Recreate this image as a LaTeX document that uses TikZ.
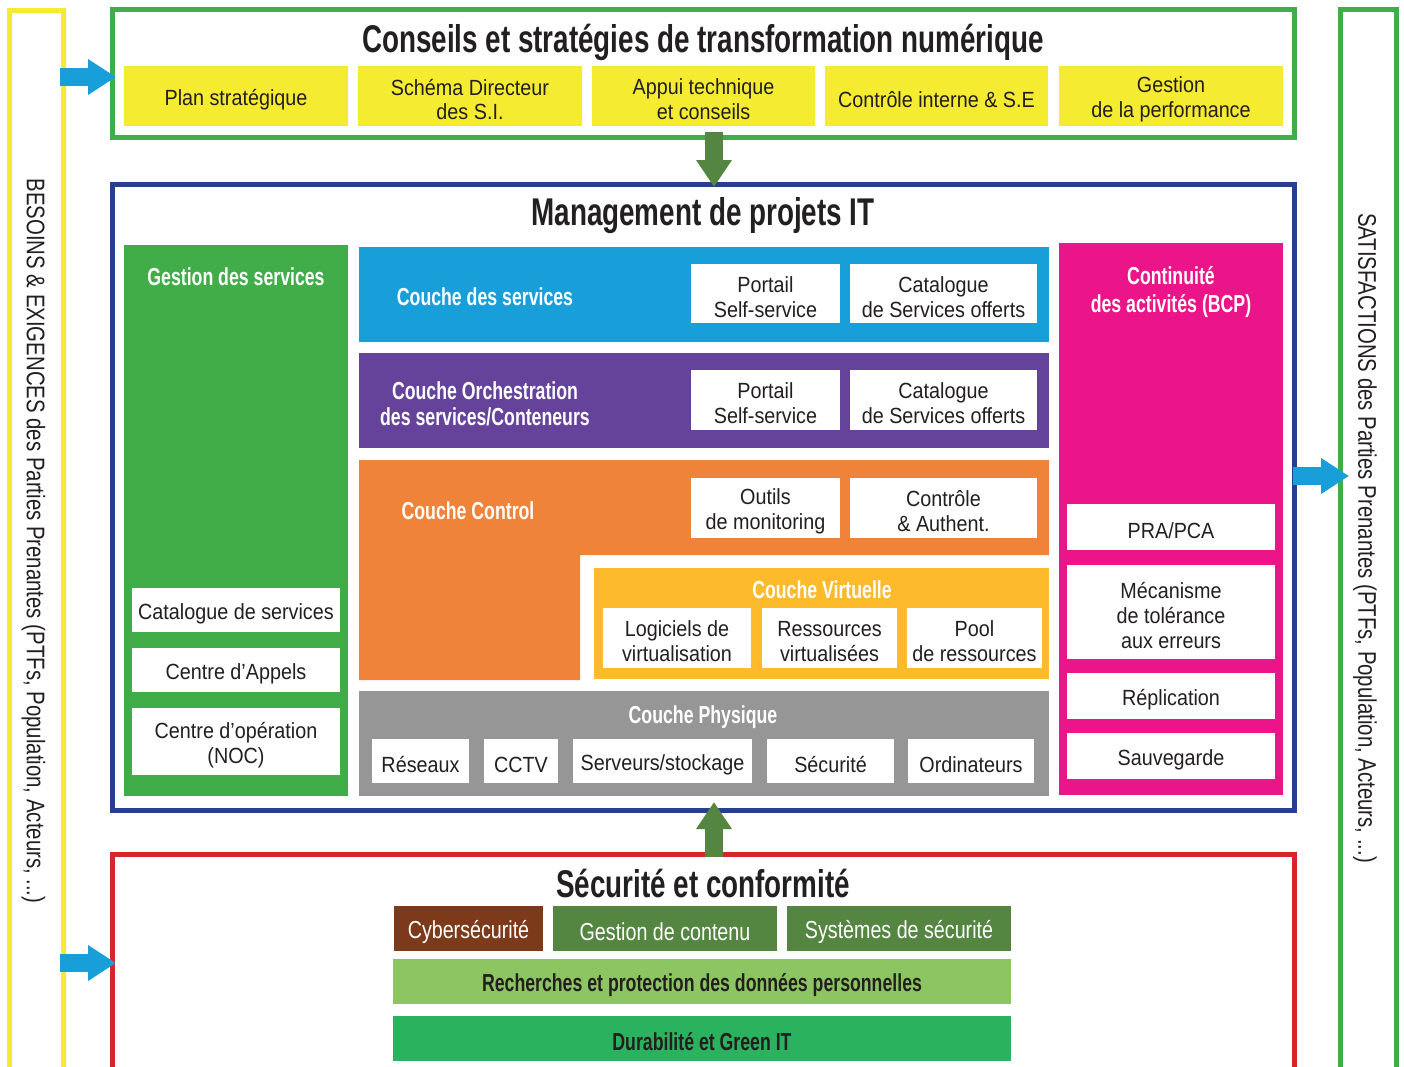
\documentclass[tikz,border=0pt]{standalone}
\usepackage{fontspec}
\setmainfont{Liberation Sans}[FakeStretch=0.9]
\newfontfamily\condfont{Liberation Sans}[FakeStretch=0.72]
\newfontfamily\lightcond{Liberation Sans}[FakeStretch=0.8]
\usetikzlibrary{arrows.meta,positioning,fit}
\definecolor{ink}{HTML}{231F20}
\definecolor{baryellow}{HTML}{F6EB33}
\definecolor{framegreen}{HTML}{3FAE4A}
\definecolor{framenavy}{HTML}{263F8E}
\definecolor{framered}{HTML}{D9242B}
\definecolor{planyellow}{HTML}{F5EC32}
\definecolor{layerblue}{HTML}{189FDA}
\definecolor{layerpurple}{HTML}{65439A}
\definecolor{layerorange}{HTML}{F0833A}
\definecolor{layergold}{HTML}{FDBB2B}
\definecolor{layergray}{HTML}{969696}
\definecolor{colgreen}{HTML}{40AD49}
\definecolor{colmagenta}{HTML}{EB1589}
\definecolor{darkgreen}{HTML}{548541}
\definecolor{brown}{HTML}{7C3A1A}
\definecolor{lightgreen}{HTML}{8DC562}
\definecolor{greenit}{HTML}{2AB25E}
\tikzstyle{border} = [draw,line width=0.1cm,inner sep=0,outer sep=0]
\tikzstyle{band} = [inner sep=0,outer sep=0]
\tikzstyle{cell} = [fill=white,inner sep=0,outer sep=0]
\tikzstyle{lab} = [text=ink,inner sep=0,yshift=-0.07cm,align=center,font=\fontsize{12.5}{14.2}\selectfont]
\tikzstyle{darklab} = [lab,text=white,font=\lightcond\fontsize{14}{16}\selectfont]
\tikzstyle{boldlab} = [lab,font=\condfont\bfseries\fontsize{14}{16}\selectfont]
\tikzstyle{head} = [text=white,align=center,font=\condfont\bfseries\fontsize{14}{14.6}\selectfont]
\tikzstyle{bigtitle} = [text=ink,font=\condfont\bfseries\fontsize{22}{26}\selectfont]
\tikzstyle{sidetext} = [text=ink,rotate=-90,font=\lightcond\fontsize{14.5}{16}\selectfont]
\tikzstyle{bluearrow} = [line width=0.36cm,color=layerblue,-{Triangle[length=0.56cm,width=0.68cm]}]
\tikzstyle{greenarrow} = [line width=0.36cm,color=darkgreen,-{Triangle[length=0.54cm,width=0.68cm]}]

\begin{document}
\begin{tikzpicture}[x=0.02cm,y=-0.02cm]
  \fill[white] (0,0) rectangle (1404,1066);
  \useasboundingbox (0,0) rectangle (1404,1066);

  % side bars
  \node[border,draw=baryellow,fit={(9.5,10.5) (63.5,1100)}] (besoins) {};
  \node[border,draw=framegreen,fit={(1340.5,9.5) (1396.5,1100)}] (satis) {};
  \node[sidetext] (besoinstext) at (33.5,541) {BESOINS \& EXIGENCES des Parties Prenantes (PTFs, Population, Acteurs, ...)};
  \node[sidetext] (satistext) at (1365,538) {SATISFACTIONS des Parties Prenantes (PTFs, Population, Acteurs, ...)};

  % conseils
  \node[border,draw=framegreen,fit={(112.5,9.5) (1294.5,137.5)}] (conseils) {};
  \node[bigtitle] (conseilstitle) at (703,42) {Conseils et stratégies de transformation numérique};
  \node[cell,fill=planyellow,fit={(124,66) (348,126)},label={[lab]center:Plan stratégique}] (plan) {};
  \node[cell,fill=planyellow,fit={(358,66) (582,126)},label={[lab]center:{Schéma Directeur\\des S.I.}}] (schema) {};
  \node[cell,fill=planyellow,fit={(592,66) (815,126)},label={[lab]center:{Appui technique\\et conseils}}] (appui) {};
  \node[cell,fill=planyellow,fit={(825,66) (1048,126)},label={[lab]center:Contrôle interne \& S.E}] (controleint) {};
  \node[cell,fill=planyellow,fit={(1059,66) (1283,126)},label={[lab]center:{Gestion\\de la performance}}] (perf) {};

  % management
  \node[border,draw=framenavy,fit={(112.5,184.5) (1294.5,810)}] (mgmt) {};
  \node[bigtitle] (mgmttitle) at (703,216) {Management de projets IT};

  \node[band,fill=colgreen,fit={(124,245) (348,796)}] (gestion) {};
  \node[head] (gestiontitle) at (236,277) {Gestion des services};
  \node[cell,fit={(132,588) (340,632)},label={[lab]center:Catalogue de services}] (catalogue) {};
  \node[cell,fit={(132,648) (340,692)},label={[lab]center:Centre d’Appels}] (appels) {};
  \node[cell,fit={(132,708) (340,775)},label={[lab]center:{Centre d’opération\\(NOC)}}] (noc) {};

  \node[band,fill=layerblue,fit={(359,247) (1049,342)}] (services) {};
  \node[head] (servicestitle) at (485,297) {Couche des services};
  \node[cell,fit={(691,264) (840,323)},label={[lab]center:{Portail\\Self-service}}] (portaila) {};
  \node[cell,fit={(850,264) (1037,323)},label={[lab]center:{Catalogue\\de Services offerts}}] (cataloguea) {};

  \node[band,fill=layerpurple,fit={(359,353) (1049,448)}] (orchestration) {};
  \node[head] (orchestrationtitle) at (485,404) {Couche Orchestration\\des services/Conteneurs};
  \node[cell,fit={(691,370) (840,430)},label={[lab]center:{Portail\\Self-service}}] (portailb) {};
  \node[cell,fit={(850,370) (1037,430)},label={[lab]center:{Catalogue\\de Services offerts}}] (catalogueb) {};

  \fill[layerorange] (359,460) -- (1049,460) -- (1049,555) -- (580,555) -- (580,680) -- (359,680) -- cycle;
  \node[head] (controltitle) at (468,511) {Couche Control};
  \node[cell,fit={(691,478) (840,538)},label={[lab]center:{Outils\\de monitoring}}] (outils) {};
  \node[cell,fit={(850,478) (1037,538)},label={[lab]center:{Contrôle\\\& Authent.}}] (authent) {};

  \node[band,fill=layergold,fit={(594,568) (1049,679)}] (virtuelle) {};
  \node[head] (virtuelletitle) at (822,590) {Couche Virtuelle};
  \node[cell,fit={(603,608) (751,668)},label={[lab]center:{Logiciels de\\virtualisation}}] (logiciels) {};
  \node[cell,fit={(762,608) (897,668)},label={[lab]center:{Ressources\\virtualisées}}] (ressources) {};
  \node[cell,fit={(907,608) (1042,668)},label={[lab]center:{Pool\\de ressources}}] (pool) {};

  \node[band,fill=layergray,fit={(359,691) (1049,796)}] (physique) {};
  \node[head] (physiquetitle) at (703,717) {Couche Physique};
  \node[cell,fit={(372,739) (469,783)},label={[lab]center:Réseaux}] (reseaux) {};
  \node[cell,fit={(484,739) (558,783)},label={[lab]center:CCTV}] (cctv) {};
  \node[cell,fit={(573,739) (752,783)},label={[lab]center:Serveurs/stockage}] (serveurs) {};
  \node[cell,fit={(767,739) (894,783)},label={[lab]center:Sécurité}] (securite) {};
  \node[cell,fit={(908,739) (1034,783)},label={[lab]center:Ordinateurs}] (ordinateurs) {};

  \node[band,fill=colmagenta,fit={(1059,243) (1283,795)}] (bcp) {};
  \node[head,font=\condfont\bfseries\fontsize{14}{15.5}\selectfont] (bcptitle) at (1171,292) {Continuité\\des activités (BCP)};
  \node[cell,fit={(1067,504) (1275,550)},label={[lab]center:PRA/PCA}] (pra) {};
  \node[cell,fit={(1067,565) (1275,659)},label={[lab]center:{Mécanisme\\de tolérance\\aux erreurs}}] (mecanisme) {};
  \node[cell,fit={(1067,673) (1275,719)},label={[lab]center:Réplication}] (replication) {};
  \node[cell,fit={(1067,733) (1275,779)},label={[lab]center:Sauvegarde}] (sauvegarde) {};

  % securite
  \node[border,draw=framered,fit={(112.5,854.5) (1294.5,1100)}] (secu) {};
  \node[bigtitle] (secutitle) at (703,883) {Sécurité et conformité};
  \node[cell,fill=brown,fit={(394,906) (543,951)},label={[darklab]center:Cybersécurité}] (cyber) {};
  \node[cell,fill=darkgreen,fit={(553,906) (777,951)},label={[darklab]center:Gestion de contenu}] (contenu) {};
  \node[cell,fill=darkgreen,fit={(787,906) (1011,951)},label={[darklab]center:Systèmes de sécurité}] (systemes) {};
  \node[cell,fill=lightgreen,fit={(393,959) (1011,1004)},label={[boldlab]center:Recherches et protection des données personnelles}] (recherches) {};
  \node[cell,fill=greenit,fit={(393,1016) (1011,1061)},label={[boldlab]center:Durabilité et Green IT}] (durabilite) {};

  % arrows
  \coordinate (ina) at (60,77);
  \coordinate (inb) at (60,963);
  \coordinate (outa) at (1293,476);
  \coordinate (downa) at (714,132);
  \coordinate (upa) at (714,857);
  \draw[bluearrow] (ina) -- ([xshift=0.07cm]conseils.west |- ina);
  \draw[bluearrow] (inb) -- ([xshift=0.07cm]secu.west |- inb);
  \draw[bluearrow] (outa) -- ([xshift=0.17cm]satis.west |- outa);
  \draw[greenarrow] (downa) -- ([yshift=-0.05cm]downa |- mgmt.north);
  \draw[greenarrow] (upa) -- ([yshift=0.16cm]upa |- mgmt.south);
\end{tikzpicture}
\end{document}
